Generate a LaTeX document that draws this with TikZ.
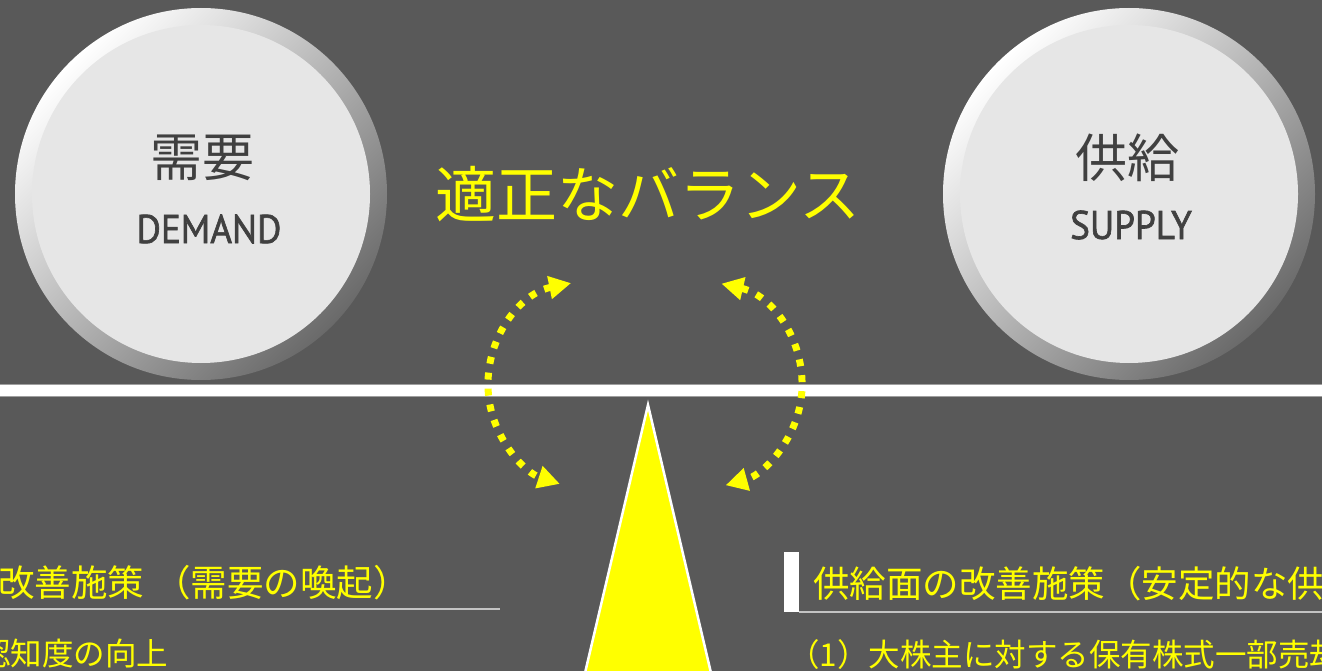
\documentclass[tikz,border=0pt]{standalone}
\usepackage{fontspec}
\newfontfamily\jp{Noto Sans CJK JP}
\newfontfamily\latinsans[FakeBold=1.6,FakeStretch=0.93]{PT Sans}
\usetikzlibrary{arrows.meta}
\definecolor{bg}{HTML}{595959}
\definecolor{txtgrey}{HTML}{404040}
\definecolor{ringdark}{HTML}{6A6A6A}
\definecolor{corefill}{HTML}{E6E6E6}
\definecolor{yel}{HTML}{FFFF00}
\definecolor{linegrey}{HTML}{C4C4C4}
\begin{document}
\begin{tikzpicture}[x=1pt,y=-1pt,
  ring/.style={circle, minimum size=372pt, inner sep=0pt, top color=white, bottom color=ringdark, shading angle=45},
  core/.style={circle, minimum size=338pt, inner sep=0pt, fill=corefill},
  bigjp/.style={font=\jp\fontsize{52}{60}\selectfont, text=txtgrey, inner sep=0pt},
  bigen/.style={font=\latinsans\fontsize{40}{48}\selectfont, text=txtgrey, inner sep=0pt},
  titletext/.style={font=\jp\fontsize{61}{70}\selectfont, text=yel, inner sep=0pt},
  headtext/.style={font=\jp\fontsize{36.5}{40}\selectfont, text=yel, inner sep=0pt, anchor=base west},
  bodytext/.style={font=\jp\fontsize{31.5}{36}\selectfont, text=yel, inner sep=0pt, anchor=base west},
  loopline/.style={yel, line width=7pt, dash pattern=on 7pt off 9pt,
    {Triangle[length=22pt,width=22pt]}-{Triangle[length=22pt,width=22pt]}},
]
\useasboundingbox (0,0) rectangle (1322,671);
\fill[bg] (0,0) rectangle (1322,671);

% circles
\node[ring] (dring) at (201,194) {};
\node[core] (dcore) at (201,194) {};
\node[bigjp] (dja) at (202,158) {需要};
\node[bigen] (den) at (209,229) {DEMAND};

\node[ring] (sring) at (1129,194) {};
\node[core] (score) at (1129,194) {};
\node[bigjp] (sja) at (1127,158) {供給};
\node[bigen] (sen) at (1131,225) {SUPPLY};

% title
\node[titletext] (title) at (648,194) {適正なバランス};

% beam
\fill[white, draw=gray!75, line width=1pt] (-2,384) rectangle (1324,396);

% fulcrum
\draw[white, line width=2.5pt, fill=yel] (648,405) -- (581,690) -- (715,690) -- cycle;

% dotted loops
\draw[loopline] (592,385) ++(258.4:104) arc[start angle=258.4, end angle=108, radius=104];
\draw[loopline] (698,385) ++(283:104) arc[start angle=283, end angle=434.6, radius=104];

% left section
\node[headtext] (lhead) at (-2,596) {改善施策\hspace{10pt}（需要の喚起）};
\draw[linegrey, line width=1.5pt] (0,609) -- (500,609);
\node[bodytext] (lbody) at (-21,665) {認知度の向上};

% right section
\fill[white] (784,552) rectangle (799,612);
\draw[linegrey, line width=1.5pt] (799,612) -- (1322,612);
\node[headtext] (rhead) at (813,597) {供給面の改善施策（安定的な供};
\node[bodytext] (rbody) at (788,666) {（1）大株主に対する保有株式一部売却};
\end{tikzpicture}
\end{document}
